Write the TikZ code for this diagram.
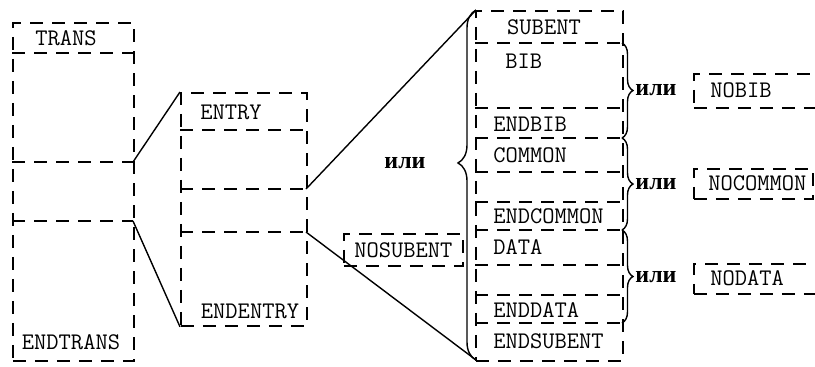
\documentclass[tikz,border=0pt]{standalone}
\usepackage{fontspec}
\newfontfamily\cyrfont{Liberation Serif}
\usetikzlibrary{decorations.pathreplacing}

\begin{document}
\begin{tikzpicture}[x=0.5pt, y=-0.5pt,
    font=\ttfamily\fontsize{11.9}{13}\selectfont,
    frame/.style={draw, dash pattern=on 6.5pt off 4.5pt, line width=0.9pt, anchor=north west, inner sep=0pt},
    divider/.style={dash pattern=on 6.5pt off 4.5pt, line width=0.9pt},
    word/.style={anchor=west, inner sep=0pt},
    ili/.style={font=\cyrfont\bfseries\fontsize{12}{13}\selectfont, inner sep=0pt},
    curly/.style={decorate, decoration={brace, amplitude=#1}, line width=0.7pt},
    link/.style={line width=0.7pt}]
    \useasboundingbox (0,0) rectangle (815,366);
    \clip (0,0) rectangle (815,366);

    % TRANS
    \node[frame, minimum width=60.5pt, minimum height=169pt] (trans) at (12,22) {};
    \draw[divider] (12,53) -- (133,53);
    \draw[divider] (12,162) -- coordinate[pos=1] (tr1) (133,162);
    \draw[divider] (12,221) -- coordinate[pos=1] (tr2) (133,221);
    \node (transtxt) at (66,38) {TRANS};
    \node (endtrans) at (71,342) {ENDTRANS};

    % ENTRY
    \node[frame, minimum width=63pt, minimum height=116.5pt] (entry) at (180,92) {};
    \draw[divider] (180,130) -- (306,130);
    \draw[divider] (180,189) -- coordinate[pos=1] (en1) (306,189);
    \draw[divider] (180,232) -- coordinate[pos=1] (en2) (306,232);
    \node (entrytxt) at (231,112) {ENTRY};
    \node (endentry) at (250,311) {ENDENTRY};

    % SUBENT
    \node[frame, minimum width=73.5pt, minimum height=175pt] (subent) at (475,10) {};
    \foreach \y in {43,108,138,172,202,230,265,295,323}
        \draw[divider] (475,\y) -- (622,\y);
    \node (subenttxt) at (544,27) {SUBENT};
    \node[word] (bib) at (505,61) {BIB};
    \node[word] (endbib) at (493,124) {ENDBIB};
    \node[word] (common) at (493,155) {COMMON};
    \node[word] (endcommon) at (493,216) {ENDCOMMON};
    \node[word] (data) at (493,247) {DATA};
    \node[word] (enddata) at (493,310) {ENDDATA};
    \node[word] (endsubent) at (493,341) {ENDSUBENT};

    % alternatives
    \node[frame, minimum width=59.5pt, minimum height=16pt] (nosubent) at (343,233) {};
    \node (nosubenttxt) at (nosubent.center) {NOSUBENT};
    \node[frame, minimum width=70pt, minimum height=17pt] (nobib) at (693,73) {};
    \node[word] (nobibtxt) at (710,90) {NOBIB};
    \node[frame, minimum width=59.5pt, minimum height=15pt] (nocommon) at (693,168) {};
    \node[word] (nocommontxt) at (708,183) {NOCOMMON};
    \node[frame, minimum width=70pt, minimum height=15pt] (nodata) at (693,263) {};
    \node[word] (nodatatxt) at (710,278) {NODATA};

    % braces
    \coordinate (bt) at (476,10);
    \coordinate (bb) at (476,360);
    \draw[curly=9pt, decoration={aspect=0.563}] (bb) -- (bt);
    \node[ili] (ili0) at (405,163) {или};
    \draw[curly=5.5pt] (622,43) -- (622,138);
    \draw[curly=5.5pt] (622,138) -- (622,230);
    \draw[curly=5.5pt] (622,230) -- (622,323);
    \node[ili] (ili1) at (656,90) {или};
    \node[ili] (ili2) at (656,184) {или};
    \node[ili] (ili3) at (656,277) {или};

    % links
    \draw[link] (tr1) -- (entry.north west);
    \draw[link] (tr2) -- (entry.south west);
    \draw[link] (en1) -- (bt);
    \draw[link] (en2) -- (bb);
\end{tikzpicture}
\end{document}
